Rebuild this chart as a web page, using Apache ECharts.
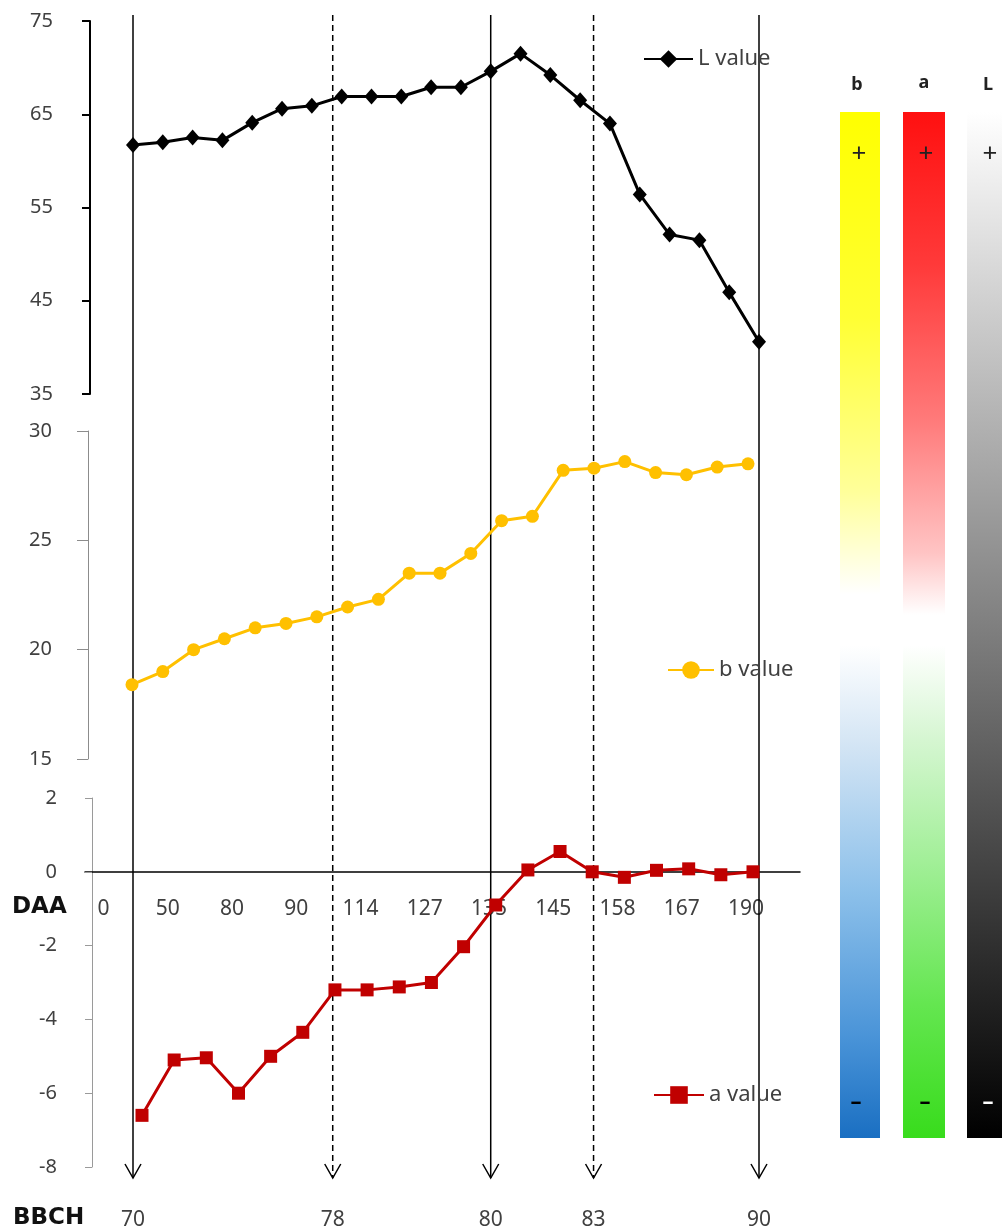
<!DOCTYPE html>
<html>
<head>
<meta charset="utf-8">
<script src="https://cdn.jsdelivr.net/npm/echarts@6/dist/echarts.min.js"></script>
<style>
  html, body { margin: 0; padding: 0; background: #fff; }
  #chart { width: 1002px; height: 1232px; }
</style>
</head>
<body>
<div id="chart"></div>
<script>
// Colour values (CIELAB) measured over the sampling dates
const lValue = [61.7, 62.0, 62.5, 62.2, 64.1, 65.6, 65.9, 66.9, 66.9, 66.9, 67.9,
                67.9, 69.6, 71.5, 69.2, 66.5, 64.0, 56.4, 52.1, 51.5, 45.9, 40.6];
const bValue = [18.4, 19.0, 20.0, 20.5, 21.0, 21.2, 21.5, 21.95, 22.3, 23.5, 23.5,
                24.4, 25.9, 26.1, 28.2, 28.3, 28.6, 28.1, 28.0, 28.35, 28.5];
const aValue = [-6.6, -5.1, -5.04, -6.0, -5.0, -4.35, -3.2, -3.2, -3.12, -3.0,
                -2.03, -0.9, 0.05, 0.55, 0.0, -0.15, 0.04, 0.08, -0.08, 0.0];

// Days after anthesis shown under the zero line
const daaLabels = ['0', '50', '80', '90', '114', '127', '135', '145', '158', '167', '190'];

// BBCH growth stages, placed on the L sampling index
const bbchStage = ['70', '78', '80', '83', '90'];
const bbchAt = [0, 6.7, 12, 15.45, 21];
const bbchDashed = [false, true, false, true, false];

const FONT = 'Noto Sans';
const TXT = '#404040';

const sampleIds = n => Array.from({ length: n }, (_, i) => String(i + 1));

function yAxisStyle(lineColor, lineWidth, tickLen, margin) {
  return {
    axisLine: { show: true, lineStyle: { color: lineColor, width: lineWidth } },
    axisTick: { show: true, inside: false, length: tickLen, lineStyle: { color: lineColor, width: lineWidth } },
    axisLabel: { color: TXT, fontFamily: FONT, fontSize: 20, margin: margin },
    splitLine: { show: false }
  };
}

function legendAt(name, left, top, width) {
  return {
    data: [name], left: left, top: top, padding: 0, itemWidth: width, itemHeight: 22,
    textStyle: { fontSize: 22, color: TXT, fontFamily: FONT }
  };
}

const chart = echarts.init(document.getElementById('chart'), null, { renderer: 'canvas' });

const option = {
  backgroundColor: '#ffffff',
  animation: false,
  grid: [
    { left: 133, right: 243, top: 21, height: 373 },    // L
    { left: 132, right: 254, top: 431, height: 328 },   // b
    { left: 142, right: 249, top: 798, height: 369 },   // a
    { left: 85, right: 202, top: 860, height: 12 },     // DAA zero line
    { left: 133, right: 243, top: 15, height: 1163 }    // BBCH stage lines
  ],
  xAxis: [
    { gridIndex: 0, type: 'category', data: sampleIds(lValue.length), boundaryGap: false, show: false },
    { gridIndex: 1, type: 'category', data: sampleIds(bValue.length), boundaryGap: false, show: false },
    { gridIndex: 2, type: 'category', data: sampleIds(aValue.length), boundaryGap: false, show: false },
    {
      gridIndex: 3, type: 'value', min: -0.288, max: 10.84, position: 'bottom',
      axisLine: { show: true, onZero: false, lineStyle: { color: '#000', width: 1.5 } },
      axisTick: { show: false },
      splitLine: { show: false },
      axisLabel: {
        customValues: daaLabels.map((_, i) => i),
        formatter: v => daaLabels[Math.round(v)],
        color: TXT, fontFamily: FONT, fontSize: 21, margin: 27
      }
    },
    {
      gridIndex: 4, type: 'value', min: 0, max: lValue.length - 1, position: 'bottom',
      axisLine: { show: false }, axisTick: { show: false }, splitLine: { show: false },
      axisLabel: {
        customValues: bbchAt,
        formatter: v => {
          let best = 0;
          bbchAt.forEach((p, i) => { if (Math.abs(p - v) < Math.abs(bbchAt[best] - v)) best = i; });
          return bbchStage[best];
        },
        color: TXT, fontFamily: FONT, fontSize: 21, margin: 32
      }
    }
  ],
  yAxis: [
    Object.assign({ gridIndex: 0, type: 'value', min: 35, max: 75, interval: 10, offset: 43 },
      yAxisStyle('#000000', 2, 8, 37)),
    Object.assign({ gridIndex: 1, type: 'value', min: 15, max: 30, interval: 5, offset: 44 },
      yAxisStyle('#8c8c8c', 1, 11, 36)),
    Object.assign({ gridIndex: 2, type: 'value', min: -8, max: 2, interval: 2, offset: 50 },
      yAxisStyle('#9a9a9a', 1, 7, 35)),
    { gridIndex: 3, type: 'value', min: -1, max: 0, show: false },
    { gridIndex: 4, type: 'value', min: 0, max: 1, show: false }
  ],
  legend: [
    legendAt('L value', 643, 48, 49),
    legendAt('b value', 667, 659, 46),
    legendAt('a value', 653, 1084, 50)
  ],
  series: [
    {
      name: 'L value', type: 'line', xAxisIndex: 0, yAxisIndex: 0, data: lValue,
      symbol: 'diamond', symbolSize: [14, 16], z: 3,
      lineStyle: { color: '#000000', width: 3 },
      itemStyle: { color: '#000000' }
    },
    {
      name: 'b value', type: 'line', xAxisIndex: 1, yAxisIndex: 1, data: bValue,
      symbol: 'circle', symbolSize: 13, z: 3,
      lineStyle: { color: '#FFC000', width: 3 },
      itemStyle: { color: '#FFC000' }
    },
    {
      name: 'a value', type: 'line', xAxisIndex: 2, yAxisIndex: 2, data: aValue,
      symbol: 'rect', symbolSize: 13, z: 3,
      lineStyle: { color: '#C00000', width: 3 },
      itemStyle: { color: '#C00000' }
    },
    {
      name: 'BBCH', type: 'custom', xAxisIndex: 4, yAxisIndex: 4, z: 1, silent: true, clip: false,
      data: bbchAt.map((x, i) => [x, bbchDashed[i] ? 1 : 0]),
      renderItem: function (params, api) {
        const x = api.value(0);
        const dashed = api.value(1) === 1;
        const top = api.coord([x, 1]);
        const bot = api.coord([x, 0]);
        const stroke = { stroke: '#000', lineWidth: 1.5 };
        return {
          type: 'group',
          children: [
            {
              type: 'line',
              shape: { x1: top[0], y1: top[1], x2: bot[0], y2: bot[1] },
              style: Object.assign({ lineDash: dashed ? [6, 4] : null }, stroke)
            },
            {
              type: 'polyline',
              shape: { points: [[bot[0] - 8, bot[1] - 14], [bot[0], bot[1]], [bot[0] + 8, bot[1] - 14]] },
              style: Object.assign({ fill: null }, stroke)
            }
          ]
        };
      }
    }
  ],
  graphic: [
    // axis row captions
    { type: 'text', left: 12, top: 896, style: { text: 'DAA', font: 'bold 23px "DejaVu Sans"', fill: '#111' } },
    { type: 'text', left: 13, top: 1207, style: { text: 'BBCH', font: 'bold 23px "DejaVu Sans"', fill: '#111' } },

    // colour keys for b, a and L
    {
      type: 'rect', shape: { x: 840, y: 112, width: 40, height: 1026 },
      style: { fill: new echarts.graphic.LinearGradient(0, 0, 0, 1, [
        { offset: 0, color: '#ffff00' }, { offset: 0.2, color: '#ffff33' },
        { offset: 0.37, color: '#ffff9a' }, { offset: 0.47, color: '#ffffff' },
        { offset: 0.52, color: '#ffffff' }, { offset: 0.62, color: '#d2e4f4' },
        { offset: 0.76, color: '#8cc0ea' }, { offset: 0.9, color: '#4a94d8' },
        { offset: 1, color: '#1a6fc2' }
      ]) }
    },
    {
      type: 'rect', shape: { x: 903, y: 112, width: 42, height: 1026 },
      style: { fill: new echarts.graphic.LinearGradient(0, 0, 0, 1, [
        { offset: 0, color: '#ff1010' }, { offset: 0.15, color: '#ff3a3a' },
        { offset: 0.3, color: '#ff7a7a' }, { offset: 0.43, color: '#ffc4c4' },
        { offset: 0.49, color: '#ffffff' }, { offset: 0.52, color: '#ffffff' },
        { offset: 0.61, color: '#d6f6d2' }, { offset: 0.73, color: '#a2ef98' },
        { offset: 0.87, color: '#64e650' }, { offset: 1, color: '#38dc1c' }
      ]) }
    },
    {
      type: 'rect', shape: { x: 967, y: 112, width: 40, height: 1026 },
      style: { fill: new echarts.graphic.LinearGradient(0, 0, 0, 1, [
        { offset: 0, color: '#ffffff' }, { offset: 1, color: '#000000' }
      ]) }
    },
    { type: 'text', x: 857, y: 85, style: { text: 'b', font: 'bold 18px "Noto Sans"', fill: '#222', align: 'center', verticalAlign: 'middle' } },
    { type: 'text', x: 924, y: 83, style: { text: 'a', font: 'bold 18px "Noto Sans"', fill: '#222', align: 'center', verticalAlign: 'middle' } },
    { type: 'text', x: 988, y: 85, style: { text: 'L', font: 'bold 18px "Noto Sans"', fill: '#222', align: 'center', verticalAlign: 'middle' } },
    { type: 'text', x: 859, y: 155, style: { text: '+', font: '26px "Noto Sans"', fill: '#222', align: 'center', verticalAlign: 'middle' } },
    { type: 'text', x: 926, y: 155, style: { text: '+', font: '26px "Noto Sans"', fill: '#222', align: 'center', verticalAlign: 'middle' } },
    { type: 'text', x: 990, y: 155, style: { text: '+', font: '26px "Noto Sans"', fill: '#222', align: 'center', verticalAlign: 'middle' } },
    { type: 'text', x: 856, y: 1103, style: { text: '–', font: 'bold 22px "Noto Sans"', fill: '#000', align: 'center', verticalAlign: 'middle' } },
    { type: 'text', x: 925, y: 1103, style: { text: '–', font: 'bold 22px "Noto Sans"', fill: '#000', align: 'center', verticalAlign: 'middle' } },
    { type: 'text', x: 988, y: 1103, style: { text: '–', font: 'bold 22px "Noto Sans"', fill: '#fff', align: 'center', verticalAlign: 'middle' } }
  ]
};

chart.setOption(option);
</script>
</body>
</html>
